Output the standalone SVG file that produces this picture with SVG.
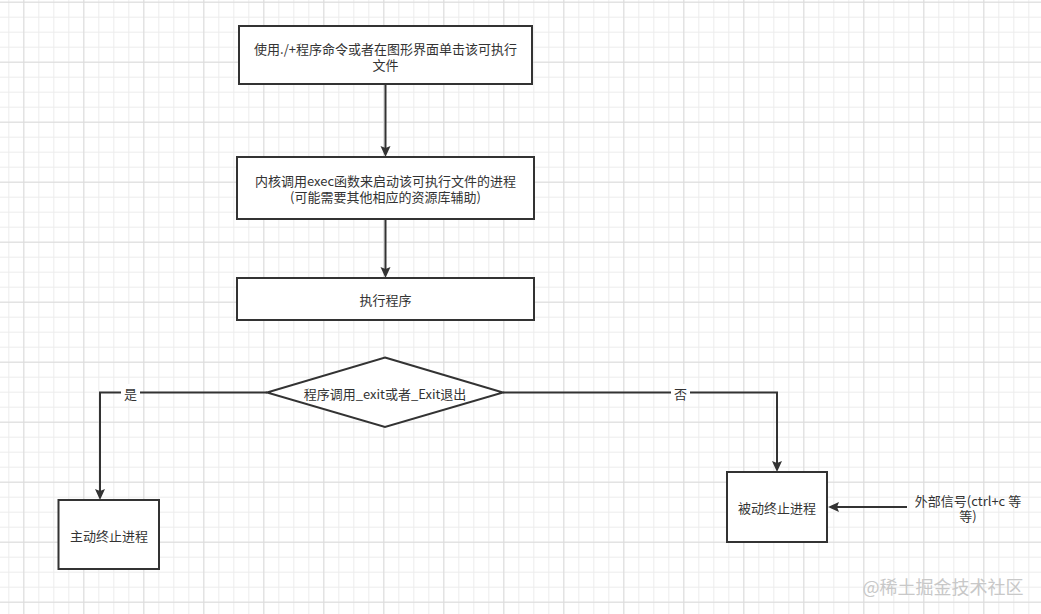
<svg xmlns="http://www.w3.org/2000/svg" width="1041" height="614" viewBox="0 0 1041 614">
<style>
.box{fill:#ffffff;stroke:#333333;stroke-width:2}
.t{font-family:"Noto Sans CJK SC","Liberation Sans",sans-serif;font-size:13px;fill:#333333;text-anchor:middle;dominant-baseline:central}
.edge{fill:none;stroke:#333333;stroke-width:2}
.lbl{font-family:"Noto Sans CJK SC","Liberation Sans",sans-serif;font-size:13px;fill:#333333;text-anchor:middle;dominant-baseline:central}
.wm{font-family:"Noto Sans CJK SC","Liberation Sans",sans-serif;font-size:18px;fill:#c8c8c8;text-anchor:middle;dominant-baseline:central}
</style>
<defs>
<pattern id="minor" patternUnits="userSpaceOnUse" x="8.3" y="1.7" width="15" height="15">
<path d="M0,0.5 H15 M0.5,0 V15" fill="none" stroke="#ececec" stroke-width="1"/>
</pattern>
<pattern id="major" patternUnits="userSpaceOnUse" x="23.3" y="1.7" width="60" height="60">
<path d="M0,0.5 H60 M0.5,0 V60" fill="none" stroke="#dcdcdc" stroke-width="1"/>
</pattern>
<marker id="arr" markerUnits="userSpaceOnUse" markerWidth="12" markerHeight="12" refX="8" refY="5" orient="auto">
<path d="M0,0 L11,5 L0,10 L2,5 Z" fill="#333333"/>
</marker>
</defs>
<rect x="0" y="0" width="1041" height="614" fill="#ffffff"/>
<rect x="0" y="0" width="1041" height="614" fill="url(#minor)"/>
<rect x="0" y="0" width="1041" height="614" fill="url(#major)"/>

<g id="connectors">
<path class="edge" d="M385.5,85 V154" marker-end="url(#arr)"/>
<path class="edge" d="M385.5,220 V275" marker-end="url(#arr)"/>
<path class="edge" d="M267,392.5 H100 V497" marker-end="url(#arr)"/>
<rect x="121" y="384" width="19" height="17" fill="#ffffff"/>
<text class="lbl" x="130.5" y="393">是</text>
<path class="edge" d="M503,392.5 H777 V469" marker-end="url(#arr)"/>
<rect x="671" y="384" width="19" height="17" fill="#ffffff"/>
<text class="lbl" x="680.5" y="393">否</text>
<path class="edge" d="M907,507 H831" marker-end="url(#arr)"/>
</g>

<g id="n1">
<rect class="box" x="239" y="26" width="293" height="58"/>
<text class="t" x="385.5" y="48"><tspan x="385.5" y="48">使用./+程序命令或者在图形界面单击该可执行</tspan><tspan x="385.5" y="64">文件</tspan></text>
</g>
<g id="n2">
<rect class="box" x="237" y="157" width="297" height="62"/>
<text class="t" x="385.5" y="180"><tspan x="385.5" y="180">内核调用exec函数来启动该可执行文件的进程</tspan><tspan x="385.5" y="196">(可能需要其他相应的资源库辅助)</tspan></text>
</g>
<g id="n3">
<rect class="box" x="237" y="278" width="297" height="42"/>
<text class="t" x="385.5" y="299">执行程序</text>
</g>
<g id="n4">
<path class="box" d="M385,357.5 L503,392.5 L385,427 L267,392.5 Z"/>
<text class="t" x="385" y="393">程序调用_exit或者_Exit退出</text>
</g>
<g id="n5">
<rect class="box" x="58.5" y="500" width="100.5" height="69"/>
<text class="t" x="109" y="535">主动终止进程</text>
</g>
<g id="n6">
<rect class="box" x="727" y="472" width="100" height="70"/>
<text class="t" x="777" y="507.5">被动终止进程</text>
</g>
<g id="n7">
<text class="t" x="968" y="500"><tspan x="968" y="500">外部信号(ctrl+c 等</tspan><tspan x="968" y="515">等)</tspan></text>
</g>
<text class="wm" x="943" y="586">@稀土掘金技术社区</text>
</svg>
